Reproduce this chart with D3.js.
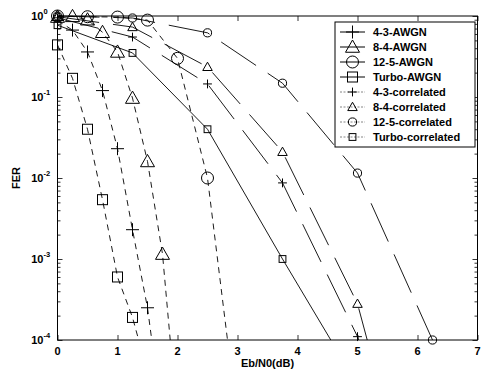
<!DOCTYPE html>
<html>
<head>
<meta charset="utf-8">
<script src="https://cdn.jsdelivr.net/npm/d3@7"></script>
<style>
  html, body { margin: 0; padding: 0; background: #fff; }
  svg text { font-family: "Liberation Sans", Arial, sans-serif; font-weight: bold; fill: #000; }
</style>
</head>
<body>
<svg id="chart" width="482" height="374"></svg>
<script>
const WIDTH = 482;
const HEIGHT = 374;
const MARGIN = { left: 57.5, right: 4.5, top: 16, bottom: 34 };

// AWGN curves (left group)
const ebno43Awgn = [0, 0.25, 0.5, 0.75, 1.0, 1.25, 1.5, 1.75];
const fer43Awgn = [0.88, 0.67, 0.36, 0.12, 0.023, 0.0023, 0.00025, 0.00001];
const ebno84Awgn = [0, 0.25, 0.5, 0.75, 1.0, 1.25, 1.5, 1.75, 2.0];
const fer84Awgn = [0.97, 0.99, 0.9, 0.63, 0.36, 0.097, 0.016, 0.00115, 0.00001];
const ebno125Awgn = [0, 0.5, 1.0, 1.5, 2.0, 2.5, 3.0];
const fer125Awgn = [1.0, 0.98, 0.97, 0.89, 0.30, 0.01, 0.00001];
const ebnoTurboAwgn = [0, 0.25, 0.5, 0.75, 1.0, 1.25, 1.5];
const ferTurboAwgn = [0.44, 0.17, 0.040, 0.0054, 0.0006, 0.00019, 0.00004];

// correlated curves (right group)
const ebnoCorr = [0, 1.25, 2.5, 3.75, 5.0, 6.25];
const fer43Corr = [0.95, 0.55, 0.145, 0.0087, 0.00011, 0.0000001];
const fer84Corr = [0.98, 0.73, 0.235, 0.021, 0.00028, 0.0000001];
const fer125Corr = [1.0, 0.945, 0.62, 0.148, 0.0115, 0.0001];
const ferTurboCorr = [0.77, 0.35, 0.04, 0.001, 0.000028, 0.0000001];

const xTicks = [0, 1, 2, 3, 4, 5, 6, 7];
const yTicks = [1e-4, 1e-3, 1e-2, 1e-1, 1];
const yTickExp = ['-4', '-3', '-2', '-1', '0'];

const legendLabels = ['4-3-AWGN', '8-4-AWGN', '12-5-AWGN', 'Turbo-AWGN',
  '4-3-correlated', '8-4-correlated', '12-5-correlated', 'Turbo-correlated'];

const series = [
  { xs: ebno43Awgn, ys: fer43Awgn, mark: 'plus', big: true, dash: '6,5' },
  { xs: ebno84Awgn, ys: fer84Awgn, mark: 'tri', big: true, dash: '6,5' },
  { xs: ebno125Awgn, ys: fer125Awgn, mark: 'circle', big: true, dash: '6,5' },
  { xs: ebnoTurboAwgn, ys: ferTurboAwgn, mark: 'square', big: true, dash: '6,5' },
  { xs: ebnoCorr, ys: fer43Corr, mark: 'plus', big: false, dash: '42,14' },
  { xs: ebnoCorr, ys: fer84Corr, mark: 'tri', big: false, dash: '42,14' },
  { xs: ebnoCorr, ys: fer125Corr, mark: 'circle', big: false, dash: '42,14' },
  { xs: ebnoCorr, ys: ferTurboCorr, mark: 'square', big: false, dash: null },
];

const svg = d3.select('#chart');
const x = d3.scaleLinear().domain([0, 7]).range([MARGIN.left, WIDTH - MARGIN.right]);
const y = d3.scaleLog().domain([1e-4, 1]).range([HEIGHT - MARGIN.bottom, MARGIN.top]);
const [x0, x1] = x.range();
const [y0, y1] = y.range();

svg.append('defs').append('clipPath').attr('id', 'plotClip')
  .append('rect')
  .attr('x', x0).attr('y', y1 - 8)
  .attr('width', x1 - x0).attr('height', y0 - y1 + 8);

function drawMarker(g, kind, cx, cy, big) {
  const s = big ? 1 : 0.68;
  if (kind === 'plus') {
    const r = 6.5 * s;
    g.append('path').attr('d', `M${cx - r},${cy}H${cx + r}M${cx},${cy - r}V${cy + r}`)
      .attr('stroke', '#000').attr('stroke-width', 1).attr('fill', 'none');
  } else if (kind === 'tri') {
    const r = 7 * s;
    g.append('path')
      .attr('d', `M${cx},${cy - r}L${cx + r},${cy + r * 0.75}L${cx - r},${cy + r * 0.75}Z`)
      .attr('stroke', '#000').attr('stroke-width', 1).attr('fill', 'none');
  } else if (kind === 'circle') {
    g.append('circle').attr('cx', cx).attr('cy', cy).attr('r', 6 * s)
      .attr('stroke', '#000').attr('stroke-width', 1).attr('fill', 'none');
  } else {
    const r = 5 * s;
    g.append('rect').attr('x', cx - r).attr('y', cy - r).attr('width', 2 * r).attr('height', 2 * r)
      .attr('stroke', '#000').attr('stroke-width', 1).attr('fill', 'none');
  }
}

// axes with inward ticks on all four sides
const axisG = svg.append('g');
const xAxisB = d3.axisBottom(x).tickValues(xTicks).tickSizeInner(-5).tickSizeOuter(0).tickFormat('');
const xAxisT = d3.axisTop(x).tickValues(xTicks).tickSizeInner(-5).tickSizeOuter(0).tickFormat('');
axisG.append('g').attr('transform', `translate(0,${y0})`).call(xAxisB);
axisG.append('g').attr('transform', `translate(0,${y1})`).call(xAxisT);

const minorY = [];
for (let e = -4; e < 0; e++) {
  for (let m = 2; m <= 9; m++) minorY.push(m * Math.pow(10, e));
}
const yAxisL = d3.axisLeft(y).tickValues(yTicks).tickSizeInner(-5).tickSizeOuter(0).tickFormat('');
const yAxisR = d3.axisRight(y).tickValues(yTicks).tickSizeInner(-5).tickSizeOuter(0).tickFormat('');
const yMinorL = d3.axisLeft(y).tickValues(minorY).tickSizeInner(-3).tickSizeOuter(0).tickFormat('');
const yMinorR = d3.axisRight(y).tickValues(minorY).tickSizeInner(-3).tickSizeOuter(0).tickFormat('');
axisG.append('g').attr('transform', `translate(${x0},0)`).call(yAxisL);
axisG.append('g').attr('transform', `translate(${x1},0)`).call(yAxisR);
axisG.append('g').attr('transform', `translate(${x0},0)`).call(yMinorL);
axisG.append('g').attr('transform', `translate(${x1},0)`).call(yMinorR);
axisG.selectAll('.domain').remove();
axisG.selectAll('line').attr('stroke', '#000').attr('stroke-width', 0.8);

svg.append('rect')
  .attr('x', x0).attr('y', y1).attr('width', x1 - x0).attr('height', y0 - y1)
  .attr('fill', 'none').attr('stroke', '#000').attr('stroke-width', 1);

// tick labels
svg.append('g').selectAll('text').data(xTicks).join('text')
  .attr('x', d => x(d)).attr('y', y0 + 15)
  .attr('text-anchor', 'middle').attr('font-size', 11)
  .text(d => d);

const yLab = svg.append('g').selectAll('g').data(yTicks).join('g')
  .attr('transform', d => `translate(${x0 - 7},${y(d) + 4})`);
yLab.append('text').attr('x', -7).attr('text-anchor', 'end').attr('font-size', 11).text('10');
yLab.append('text').attr('x', -7).attr('y', -6).attr('font-size', 7.5)
  .text((d, i) => yTickExp[i]);

svg.append('text')
  .attr('x', (x0 + x1) / 2).attr('y', HEIGHT - 7)
  .attr('text-anchor', 'middle').attr('font-size', 11)
  .text('Eb/N0(dB)');

svg.append('text')
  .attr('transform', `translate(20,${(y0 + y1) / 2}) rotate(-90)`)
  .attr('text-anchor', 'middle').attr('font-size', 11)
  .text('FER');

// curves (lines clipped to the plot box, markers only for points inside the range)
const plot = svg.append('g').attr('clip-path', 'url(#plotClip)');
const marks = svg.append('g');
const line = d3.line().x(d => x(d[0])).y(d => y(d[1]));

series.forEach(s => {
  const pts = s.xs.map((v, i) => [v, s.ys[i]]);
  plot.append('path')
    .attr('d', line(pts))
    .attr('fill', 'none')
    .attr('stroke', '#000')
    .attr('stroke-width', 0.9)
    .attr('stroke-dasharray', s.dash);
  pts.filter(p => p[1] >= 0.95e-4)
    .forEach(p => drawMarker(marks, s.mark, x(p[0]), y(p[1]), s.big));
});

// legend
const legX = 335;
const legY = 22;
const legW = 140;
const legH = 125;
const leg = svg.append('g');
leg.append('rect')
  .attr('x', legX).attr('y', legY).attr('width', legW).attr('height', legH)
  .attr('fill', '#fff').attr('stroke', '#000').attr('stroke-width', 1);

legendLabels.forEach((label, i) => {
  const cy = legY + 10 + i * 15;
  const s = series[i];
  leg.append('line')
    .attr('x1', legX + 5).attr('x2', legX + 30).attr('y1', cy).attr('y2', cy)
    .attr('stroke', s.big ? '#000' : '#666')
    .attr('stroke-width', s.big ? 1 : 0.8)
    .attr('stroke-dasharray', s.big ? null : '2,1.5');
  drawMarker(leg, s.mark, legX + 17.5, cy, s.big);
  leg.append('text')
    .attr('x', legX + 38).attr('y', cy + 4)
    .attr('font-size', 11)
    .text(label);
});
</script>
</body>
</html>
